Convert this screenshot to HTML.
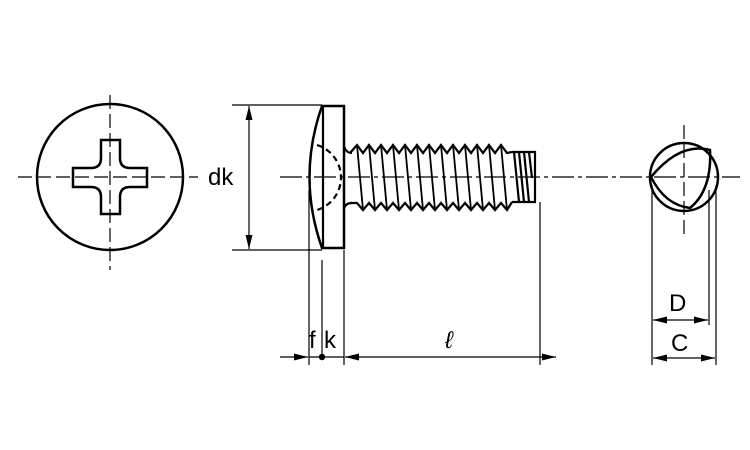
<!DOCTYPE html>
<html><head><meta charset="utf-8"><style>html,body{margin:0;padding:0;background:#fff}svg{display:block}text{font-family:"Liberation Sans",sans-serif;font-size:24px;fill:#000}</style></head><body>
<svg width="750" height="450" viewBox="0 0 750 450" xmlns="http://www.w3.org/2000/svg">
<defs><marker id="a" viewBox="0 0 14 7" refX="14" refY="3.5" markerWidth="14" markerHeight="7" orient="auto-start-reverse" markerUnits="userSpaceOnUse"><path d="M0,0L14,3.5L0,7z" fill="#000"/></marker></defs>
<g stroke="#000" fill="none">
<line x1="18" y1="177" x2="198" y2="177" stroke-width="1.2" stroke-dasharray="14,5"/>
<line x1="110" y1="95" x2="110" y2="270" stroke-width="1.2" stroke-dasharray="14,5"/>
<line x1="280" y1="177" x2="740" y2="177" stroke-width="1.2" stroke-dasharray="22,4,4,4"/>
<line x1="684" y1="125" x2="684" y2="235" stroke-width="1.2" stroke-dasharray="14,5"/>
<circle cx="110" cy="177" r="73" stroke-width="2.5"/>
<path d="M101,140 H120 V158 Q120,168 130,168 H147 V187 H130 Q120,187 120,197 V214 H101 V197 Q101,187 91,187 H73 V168 H91 Q101,168 101,158 Z" stroke-width="2.5"/>
<path d="M322,106 H344 V248 H322 Q297,177 322,106 Z" stroke-width="2.5"/>
<line x1="323" y1="106" x2="323" y2="248" stroke-width="2.2"/>
<path d="M317,145 A34,34 0 0 1 317,210" stroke-width="2.2" stroke-dasharray="6,4"/>
<path d="M344,146 Q346,153 352,153 M344,208 Q346,203 352,203" stroke-width="2.2"/>
<path d="M350,153 L357,145 L363,153 L369,145 L375,153 L381,145 L387,153 L393,145 L399,153 L405,145 L411,153 L417,145 L423,153 L429,145 L435,153 L441,145 L447,153 L453,145 L459,153 L465,145 L471,153 L477,145 L483,153 L489,145 L495,153 L501,145 L507,153 L512,152" stroke-width="2.2"/>
<path d="M350,203 L357,203 L363,210 L369,203 L375,210 L381,203 L387,210 L393,203 L399,210 L405,203 L411,210 L417,203 L423,210 L429,203 L435,210 L441,203 L447,210 L453,203 L459,210 L465,203 L471,210 L477,203 L483,210 L489,203 L495,210 L501,203 L507,210 L512,202" stroke-width="2.2"/>
<path d="M357,145 L363,210 M369,145 L375,210 M381,145 L387,210 M393,145 L399,210 M405,145 L411,210 M417,145 L423,210 M429,145 L435,210 M441,145 L447,210 M453,145 L459,210 M465,145 L471,210 M477,145 L483,210 M489,145 L495,210 M501,145 L507,210" stroke-width="1.8"/>
<path d="M512,152 H535 V202 H512 M514,152 L519,202 M519,152 L524,202 M524,152 L529,202 M529,152 L532,178" stroke-width="2.2"/>
<circle cx="684" cy="177" r="34" stroke-width="2.5"/>
<path d="M651,177 Q680,142 710,150 Q712,190 690,208 Q665,205 651,177 Z" stroke-width="2.5"/>
<g stroke-width="1.2">
<line x1="232" y1="105" x2="322" y2="105"/>
<line x1="232" y1="250" x2="322" y2="250"/>
<line x1="249" y1="106" x2="249" y2="249" marker-start="url(#a)" marker-end="url(#a)"/>
<line x1="309" y1="190" x2="309" y2="365"/>
<line x1="322" y1="260" x2="322" y2="357"/>
<line x1="344" y1="250" x2="344" y2="365"/>
<line x1="540" y1="202" x2="540" y2="365"/>
<line x1="280" y1="357" x2="308" y2="357" marker-end="url(#a)"/>
<line x1="309" y1="357" x2="344" y2="357"/>
<line x1="345" y1="357" x2="556" y2="357" marker-start="url(#a)" marker-end="url(#a)"/>
<line x1="652" y1="185" x2="652" y2="365"/>
<line x1="709" y1="190" x2="709" y2="325"/>
<line x1="716" y1="185" x2="716" y2="365"/>
<line x1="653" y1="320" x2="708" y2="320" marker-start="url(#a)" marker-end="url(#a)"/>
<line x1="653" y1="358" x2="715" y2="358" marker-start="url(#a)" marker-end="url(#a)"/>
</g>
</g>
<circle cx="322" cy="357" r="3.2" fill="#000"/>
<text x="208" y="185">dk</text>
<text x="309" y="348">f</text>
<text x="324" y="348">k</text>
<text x="445" y="348" font-style="italic">ℓ</text>
<text x="669" y="311">D</text>
<text x="671" y="351">C</text>
</svg>
</body></html>
